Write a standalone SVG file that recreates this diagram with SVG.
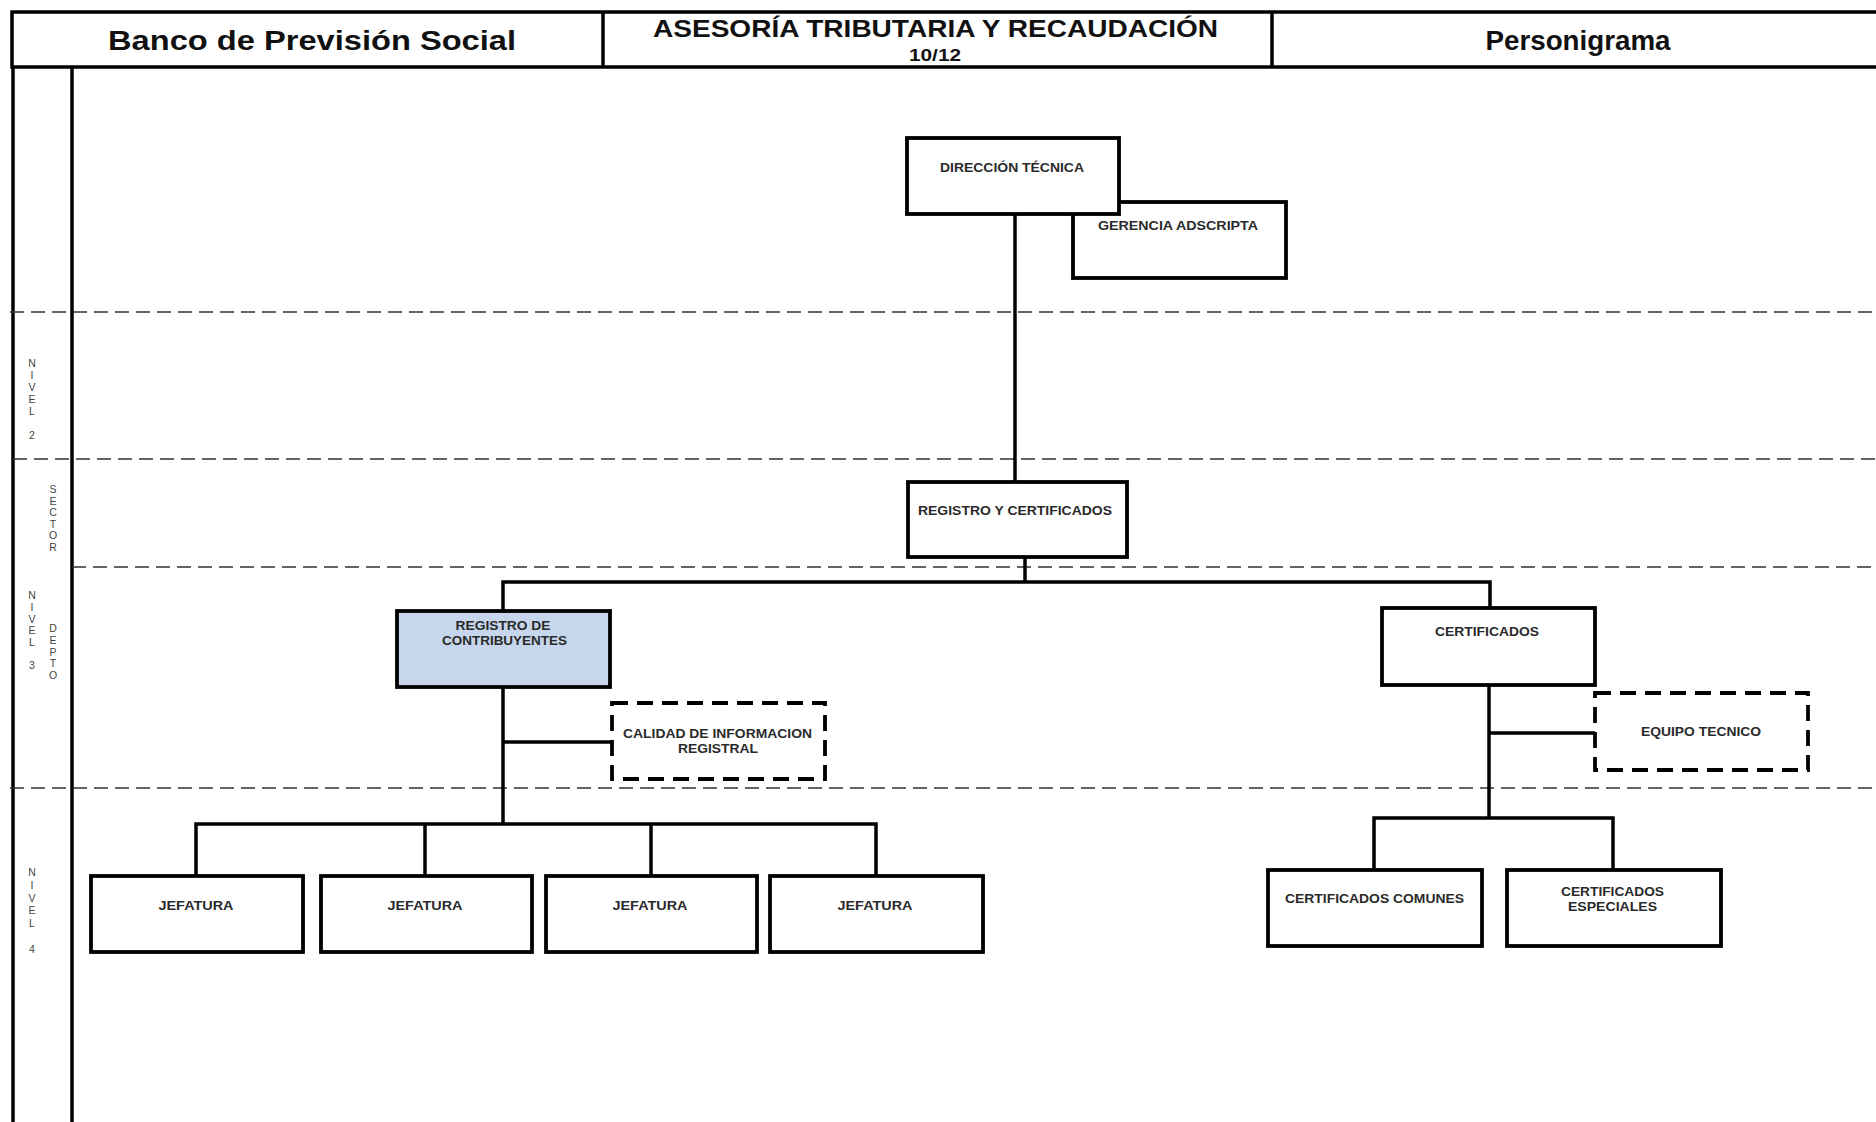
<svg xmlns="http://www.w3.org/2000/svg" width="1876" height="1122" viewBox="0 0 1876 1122">
<style>
.frame{fill:none;stroke:#000;stroke-width:3.5}
.band{fill:none;stroke:#333;stroke-width:1.7;stroke-dasharray:14 7}
.box{fill:#fff;stroke:#000;stroke-width:3.8}
.blue{fill:#c6d6ec}
.dbox{fill:#fff;stroke:#000;stroke-width:3.8;stroke-dasharray:16 9}
.conn{fill:none;stroke:#000;stroke-width:3.5}
.hdr{font-family:"Liberation Sans",Arial,sans-serif;font-weight:bold;fill:#111;text-anchor:middle}
.lbl{font-family:"Liberation Sans",Arial,sans-serif;font-weight:bold;font-size:12.5px;fill:#2a2a2a;text-anchor:middle}
.side{font-family:"Liberation Sans",Arial,sans-serif;font-size:10.5px;fill:#444;text-anchor:middle}
</style>
<rect x="0" y="0" width="1876" height="1122" fill="#fff"/>

<g id="header">
<rect x="12" y="12" width="1880" height="55" class="frame"/>
<line x1="603" y1="12" x2="603" y2="67" class="frame"/>
<line x1="1272" y1="12" x2="1272" y2="67" class="frame"/>
<text x="312" y="50" class="hdr" font-size="27" textLength="408" lengthAdjust="spacingAndGlyphs">Banco de Previsión Social</text>
<text x="935.5" y="37" class="hdr" font-size="24" textLength="565" lengthAdjust="spacingAndGlyphs">ASESORÍA TRIBUTARIA Y RECAUDACIÓN</text>
<text x="935" y="61" class="hdr" font-size="16" textLength="52" lengthAdjust="spacingAndGlyphs">10/12</text>
<text x="1578" y="50" class="hdr" font-size="27" textLength="185" lengthAdjust="spacingAndGlyphs">Personigrama</text>
</g>

<g id="side-column">
<line x1="13" y1="67" x2="13" y2="1122" class="frame"/>
<line x1="72" y1="67" x2="72" y2="1122" class="frame"/>
<line x1="10" y1="312" x2="1876" y2="312" class="band"/>
<line x1="13" y1="459" x2="1876" y2="459" class="band"/>
<line x1="72" y1="567" x2="1876" y2="567" class="band"/>
<line x1="10" y1="788" x2="1876" y2="788" class="band"/>
<text class="side"><tspan x="32" y="367">N</tspan><tspan x="32" y="379">I</tspan><tspan x="32" y="391">V</tspan><tspan x="32" y="403">E</tspan><tspan x="32" y="415">L</tspan><tspan x="32" y="439">2</tspan></text>
<text class="side"><tspan x="53" y="493">S</tspan><tspan x="53" y="504.5">E</tspan><tspan x="53" y="516">C</tspan><tspan x="53" y="527.5">T</tspan><tspan x="53" y="539">O</tspan><tspan x="53" y="550.5">R</tspan></text>
<text class="side"><tspan x="32" y="599">N</tspan><tspan x="32" y="611">I</tspan><tspan x="32" y="622.5">V</tspan><tspan x="32" y="634">E</tspan><tspan x="32" y="646">L</tspan><tspan x="32" y="669">3</tspan></text>
<text class="side"><tspan x="53" y="632">D</tspan><tspan x="53" y="644">E</tspan><tspan x="53" y="655.5">P</tspan><tspan x="53" y="667">T</tspan><tspan x="53" y="679">O</tspan></text>
<text class="side"><tspan x="32" y="876">N</tspan><tspan x="32" y="889">I</tspan><tspan x="32" y="901.5">V</tspan><tspan x="32" y="914">E</tspan><tspan x="32" y="927">L</tspan><tspan x="32" y="953">4</tspan></text>
</g>

<g id="connectors">
<line x1="1015" y1="214" x2="1015" y2="482" class="conn"/>
<line x1="1025" y1="557" x2="1025" y2="582" class="conn"/>
<polyline points="503,611 503,582 1490,582 1490,608" class="conn"/>
<line x1="503" y1="687" x2="503" y2="824" class="conn"/>
<line x1="503" y1="742" x2="612" y2="742" class="conn"/>
<polyline points="196,876 196,824 876,824 876,876" class="conn"/>
<line x1="425" y1="824" x2="425" y2="876" class="conn"/>
<line x1="651" y1="824" x2="651" y2="876" class="conn"/>
<line x1="1489" y1="685" x2="1489" y2="818" class="conn"/>
<line x1="1489" y1="733" x2="1595" y2="733" class="conn"/>
<polyline points="1374,870 1374,818 1613,818 1613,870" class="conn"/>
</g>

<g id="gerencia-adscripta">
<rect x="1073" y="202" width="213" height="76" class="box"/>
<text x="1178" y="230" class="lbl" textLength="160" lengthAdjust="spacingAndGlyphs">GERENCIA ADSCRIPTA</text>
</g>
<g id="direccion-tecnica">
<rect x="907" y="138" width="212" height="76" class="box"/>
<text x="1012" y="172" class="lbl" textLength="144" lengthAdjust="spacingAndGlyphs">DIRECCIÓN TÉCNICA</text>
</g>
<g id="registro-certificados">
<rect x="908" y="482" width="219" height="75" class="box"/>
<text x="1015" y="515" class="lbl" textLength="194" lengthAdjust="spacingAndGlyphs">REGISTRO Y CERTIFICADOS</text>
</g>
<g id="registro-contribuyentes">
<rect x="397" y="611" width="213" height="76" class="box blue"/>
<text x="503" y="630" class="lbl" textLength="95" lengthAdjust="spacingAndGlyphs">REGISTRO DE</text>
<text x="504.5" y="645" class="lbl" textLength="125" lengthAdjust="spacingAndGlyphs">CONTRIBUYENTES</text>
</g>
<g id="calidad-informacion">
<rect x="612" y="703" width="213" height="76" class="dbox"/>
<text x="717.5" y="738" class="lbl" textLength="189" lengthAdjust="spacingAndGlyphs">CALIDAD DE INFORMACION</text>
<text x="718" y="753" class="lbl" textLength="80" lengthAdjust="spacingAndGlyphs">REGISTRAL</text>
</g>
<g id="certificados">
<rect x="1382" y="608" width="213" height="77" class="box"/>
<text x="1487" y="636" class="lbl" textLength="104" lengthAdjust="spacingAndGlyphs">CERTIFICADOS</text>
</g>
<g id="equipo-tecnico">
<rect x="1595" y="693" width="213" height="77" class="dbox"/>
<text x="1701" y="736" class="lbl" textLength="120" lengthAdjust="spacingAndGlyphs">EQUIPO TECNICO</text>
</g>
<g id="jefatura-1">
<rect x="91" y="876" width="212" height="76" class="box"/>
<text x="196" y="910" class="lbl" textLength="75" lengthAdjust="spacingAndGlyphs">JEFATURA</text>
</g>
<g id="jefatura-2">
<rect x="321" y="876" width="211" height="76" class="box"/>
<text x="425" y="910" class="lbl" textLength="75" lengthAdjust="spacingAndGlyphs">JEFATURA</text>
</g>
<g id="jefatura-3">
<rect x="546" y="876" width="211" height="76" class="box"/>
<text x="650" y="910" class="lbl" textLength="75" lengthAdjust="spacingAndGlyphs">JEFATURA</text>
</g>
<g id="jefatura-4">
<rect x="770" y="876" width="213" height="76" class="box"/>
<text x="875" y="910" class="lbl" textLength="75" lengthAdjust="spacingAndGlyphs">JEFATURA</text>
</g>
<g id="certificados-comunes">
<rect x="1268" y="870" width="214" height="76" class="box"/>
<text x="1374.5" y="903" class="lbl" textLength="179" lengthAdjust="spacingAndGlyphs">CERTIFICADOS COMUNES</text>
</g>
<g id="certificados-especiales">
<rect x="1507" y="870" width="214" height="76" class="box"/>
<text x="1612.5" y="896" class="lbl" textLength="103" lengthAdjust="spacingAndGlyphs">CERTIFICADOS</text>
<text x="1612.5" y="911" class="lbl" textLength="89" lengthAdjust="spacingAndGlyphs">ESPECIALES</text>
</g>
</svg>
